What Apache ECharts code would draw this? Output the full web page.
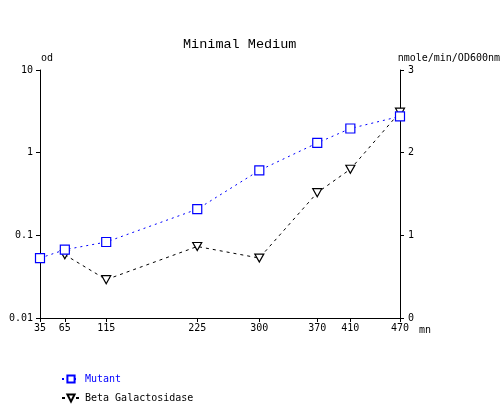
<!DOCTYPE html>
<html><head><meta charset="utf-8">
<script src="https://cdn.jsdelivr.net/npm/echarts@6/dist/echarts.min.js"></script>
<style>html,body{margin:0;padding:0;background:#fff}#c{width:502px;height:405px}</style>
</head><body><div id="c"></div>
<script>
const times = [35, 65, 115, 225, 300, 370, 410, 470];
const mutantOD = [0.053, 0.067, 0.083, 0.207, 0.61, 1.31, 1.96, 2.75];
const betaTimes = [65, 115, 225, 300, 370, 410, 470];
const betaGal = [0.765, 0.464, 0.865, 0.725, 1.516, 1.80, 2.49];
const leftTicks = [0.01, 0.1, 1, 10];
const rightTicks = [0, 1, 2, 3];

const mono = 'DejaVu Sans Mono';
const chart = echarts.init(document.getElementById('c'), null, {renderer: 'canvas'});
const legendBase = {left: 61, itemWidth: 18, itemHeight: 9, padding: 0, textStyle: {fontFamily: mono, fontSize: 10}};
chart.setOption({
  backgroundColor: '#fff',
  animation: false,
  title: {
    text: 'Minimal Medium', left: 178, top: 32,
    textStyle: {fontFamily: 'Liberation Mono', fontSize: 13.5, fontWeight: 'normal', color: '#000'}
  },
  grid: {left: 40, right: 102, top: 70, height: 248, containLabel: false},
  legend: [
    Object.assign({}, legendBase, {top: 374, data: [{name: 'Mutant', textStyle: {color: '#0000ff'}}]}),
    Object.assign({}, legendBase, {top: 393, data: [{name: 'Beta Galactosidase', textStyle: {color: '#000'}}]})
  ],
  xAxis: {
    type: 'value', min: 35, max: 470,
    axisLine: {lineStyle: {color: '#000', width: 1}},
    axisTick: {show: true, length: 4, customValues: times, lineStyle: {color: '#000'}},
    axisLabel: {customValues: times, margin: 5, color: '#000', fontFamily: mono, fontSize: 10},
    splitLine: {show: false},
    name: 'mn', nameLocation: 'end', nameGap: 19,
    nameTextStyle: {fontFamily: mono, fontSize: 10, color: '#000', verticalAlign: 'top', padding: [7, 0, 0, 0]}
  },
  yAxis: [
    {
      type: 'log', logBase: 10, min: 0.01, max: 10, position: 'left',
      axisLine: {show: true, lineStyle: {color: '#000', width: 1}},
      axisTick: {show: true, length: 4, lineStyle: {color: '#000'}},
      axisLabel: {margin: 7, color: '#000', fontFamily: mono, fontSize: 10,
        formatter: v => String(+(+v).toPrecision(2))},
      splitLine: {show: false},
      minorTick: {show: false}
    },
    {
      type: 'value', min: 0, max: 3, interval: 1, position: 'right',
      axisLine: {show: true, lineStyle: {color: '#000', width: 1}},
      axisTick: {show: true, length: 4, lineStyle: {color: '#000'}},
      axisLabel: {margin: 8, color: '#000', fontFamily: mono, fontSize: 10,
        formatter: v => String(v)},
      splitLine: {show: false}
    }
  ],
  graphic: [
    {type: 'text', left: 41, top: 53, style: {text: 'od', font: '10px "DejaVu Sans Mono"', fill: '#000'}},
    {type: 'text', right: 2, top: 53, style: {text: 'nmole/min/OD600nm', font: '10px "DejaVu Sans Mono"', fill: '#000'}}
  ],
  series: [
    {
      name: 'Mutant', type: 'line', yAxisIndex: 0,
      data: times.map((t, i) => [t, mutantOD[i]]),
      symbol: 'rect', symbolSize: 9, showAllSymbol: true,
      lineStyle: {color: '#0000ff', width: 1, type: [2, 4]},
      itemStyle: {color: '#fff', borderColor: '#0000ff', borderWidth: 1.2},
      color: '#0000ff', z: 3
    },
    {
      name: 'Beta Galactosidase', type: 'line', yAxisIndex: 1,
      data: betaTimes.map((t, i) => [t, betaGal[i]]),
      symbol: 'triangle', symbolRotate: 180, symbolSize: [9, 8], showAllSymbol: true,
      lineStyle: {color: '#000', width: 1, type: [3, 4]},
      itemStyle: {color: '#fff', borderColor: '#000', borderWidth: 1.2},
      color: '#000', z: 2
    }
  ]
});
</script></body></html>
